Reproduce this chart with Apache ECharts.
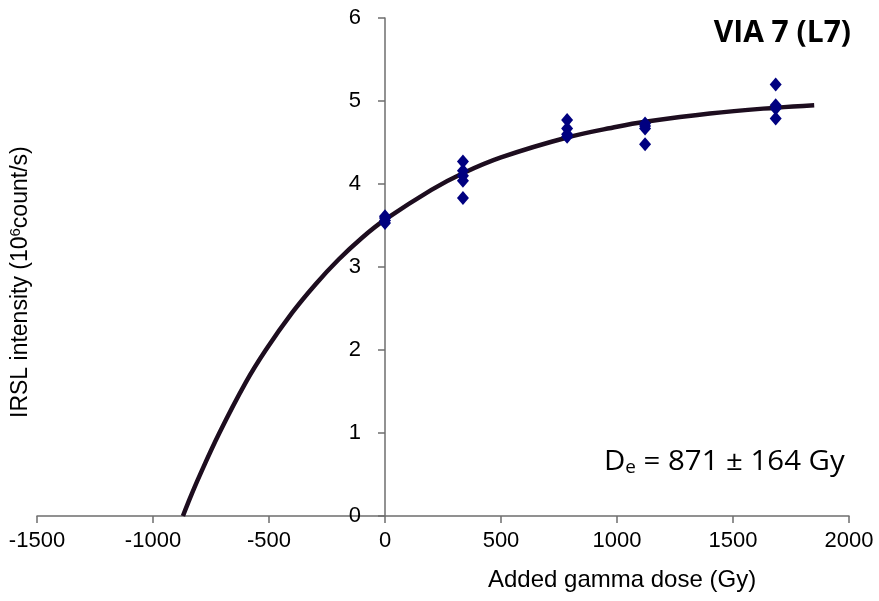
<!DOCTYPE html>
<html lang="en">
<head>
    <meta charset="UTF-8">
    <title>VIA 7 (L7)</title>
    <style type="text/css">
        html, body { margin: 0; padding: 0; background: #fff; }
        #mountNode { width: 879px; height: 601px; }
    </style>
</head>
<body>
    <div id="mountNode"></div>
<script src="https://cdn.jsdelivr.net/npm/echarts@6/dist/echarts.min.js"></script>
<script type="text/javascript">
    // measured points (dose in Gy, IRSL in 10^6 count/s)
    var doseX = [0, 0, 0, 0,
                 336, 336, 336, 336, 336,
                 785, 785, 785, 785,
                 1121, 1121, 1121, 1121,
                 1684, 1684, 1684, 1684];
    var irslY = [3.53, 3.56, 3.59, 3.61,
                 4.27, 4.16, 4.10, 4.04, 3.83,
                 4.77, 4.67, 4.60, 4.57,
                 4.73, 4.70, 4.67, 4.48,
                 5.20, 4.95, 4.91, 4.79];

    // fitted curve
    var fitX = [-871, -850, -800, -714, -600, -514, -400, -300, -200, -100, 0, 200, 336, 500, 785, 1000, 1121, 1400, 1684, 1850];
    var fitY = [0, 0.15, 0.48, 1.0, 1.61, 2.0, 2.45, 2.79, 3.09, 3.35, 3.57, 3.93, 4.13, 4.32, 4.56, 4.69, 4.75, 4.85, 4.92, 4.95];

    var xTicks = { min: -1500, max: 2000, interval: 500 };
    var yTicks = { min: 0, max: 6, interval: 1 };

    var points = [];
    for (var i = 0; i < doseX.length; i++) {
        points.push([doseX[i], irslY[i]]);
    }
    var fitLine = [];
    for (var j = 0; j < fitX.length; j++) {
        fitLine.push([fitX[j], fitY[j]]);
    }

    var myChart = echarts.init(document.getElementById('mountNode'));
    var axisGray = '#6e6e6e';
    var font = 'Liberation Sans, Arial, sans-serif';
    var gridLeft = 37, gridRight = 30;
    // y axis sits on dose = 0
    var plotW = 879 - gridLeft - gridRight;
    var yShift = (0 - xTicks.min) / (xTicks.max - xTicks.min) * plotW;

    var option = {
        backgroundColor: '#fff',
        animation: false,
        grid: { left: gridLeft, right: gridRight, top: 18, bottom: 85 },
        xAxis: {
            type: 'value',
            min: xTicks.min, max: xTicks.max, interval: xTicks.interval,
            splitLine: { show: false },
            axisLine: { lineStyle: { color: axisGray, width: 1.5 } },
            axisTick: { length: 7, lineStyle: { color: axisGray, width: 1.5 } },
            axisLabel: {
                color: '#000', fontSize: 22, fontFamily: font, margin: 14,
                formatter: function (v) { return String(v); }
            }
        },
        yAxis: {
            type: 'value',
            min: yTicks.min, max: yTicks.max, interval: yTicks.interval,
            offset: -yShift,
            splitLine: { show: false },
            axisLine: { onZero: false, lineStyle: { color: axisGray, width: 1.5 } },
            axisTick: { length: 7, lineStyle: { color: axisGray, width: 1.5 } },
            axisLabel: { color: '#000', fontSize: 22, fontFamily: font, margin: 24 }
        },
        graphic: [
            {
                type: 'text', right: 28, top: 18,
                style: { text: 'VIA 7 (L7)', fontSize: 30, fontWeight: 'bold', fontFamily: 'Open Sans, Lato, sans-serif', fill: '#000' }
            },
            {
                type: 'text', left: 604, top: 448, scaleX: 1.05,
                style: {
                    text: '{m|D}{s|e}{m| = 871 ± 164 Gy}',
                    fill: '#000',
                    rich: {
                        m: { fontSize: 28, fontFamily: 'Open Sans, Lato, sans-serif', fill: '#000' },
                        s: { fontSize: 18, fontFamily: 'Open Sans, Lato, sans-serif', fill: '#000', verticalAlign: 'bottom', padding: [12, 0, 0, 0] }
                    }
                }
            },
            {
                type: 'text', left: 488, top: 568,
                style: { text: 'Added gamma dose (Gy)', fontSize: 24, fontFamily: font, fill: '#000' }
            },
            {
                type: 'text', x: 8, y: 418, rotation: Math.PI / 2,
                style: {
                    text: '{m|IRSL intensity (10}{s|6}{m|count/s)}',
                    fill: '#000',
                    rich: {
                        m: { fontSize: 23, fontFamily: font, fill: '#000' },
                        s: { fontSize: 15, fontFamily: font, fill: '#000', verticalAlign: 'top', padding: [0, 0, 10, 0] }
                    }
                }
            }
        ],
        series: [
            {
                name: 'fit',
                type: 'line',
                data: fitLine,
                smooth: 0.4,
                showSymbol: false,
                lineStyle: { color: '#1d0d1f', width: 4.5, cap: 'butt' },
                z: 2
            },
            {
                name: 'data',
                type: 'scatter',
                data: points,
                symbol: 'diamond',
                symbolSize: [12, 14],
                itemStyle: { color: '#000080', opacity: 1 },
                z: 3
            }
        ]
    };
    myChart.setOption(option);
</script>
</body>
</html>
